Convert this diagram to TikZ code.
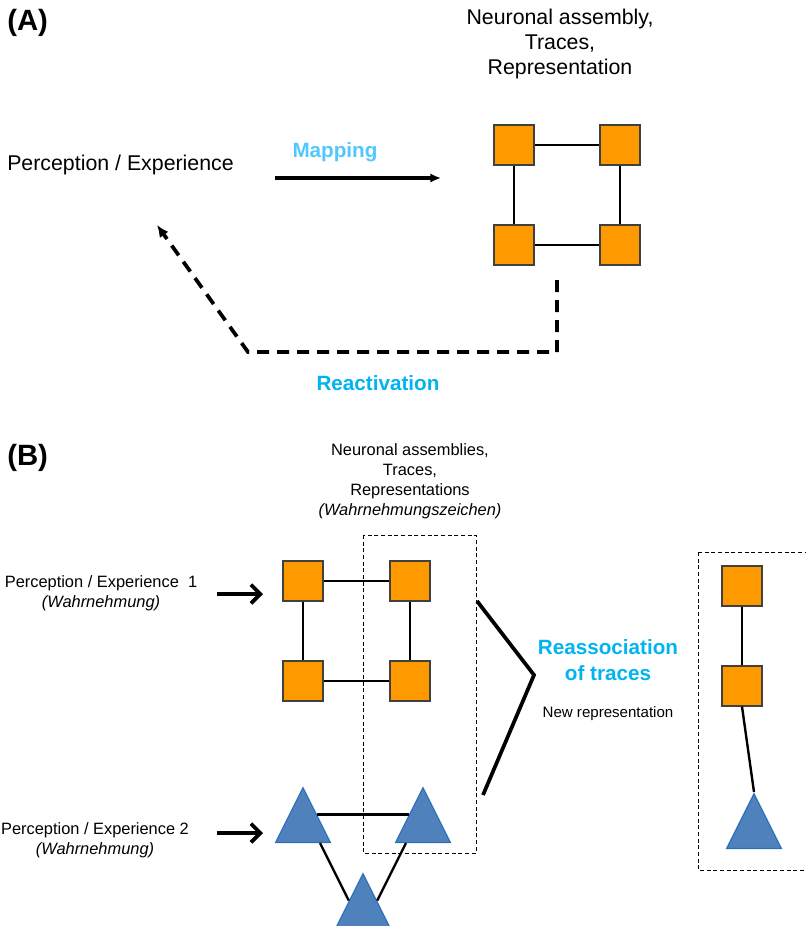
\documentclass[tikz,border=0pt]{standalone}
\usepackage{fontspec}
\setmainfont{Liberation Sans}
\usetikzlibrary{shapes.geometric, positioning, arrows.meta, calc}
\definecolor{sqorange}{RGB}{255,153,0}
\definecolor{sqedge}{RGB}{64,64,64}
\definecolor{trifill}{RGB}{79,129,189}
\definecolor{triedge}{RGB}{46,112,184}
\definecolor{mapblue}{RGB}{80,200,255}
\definecolor{reblue}{RGB}{0,180,240}
\tikzset{sq/.style={draw=sqedge, fill=sqorange, line width=0.9pt, minimum size=30pt, inner sep=0pt},
         tri/.style={isosceles triangle, shape border rotate=90, isosceles triangle stretches,
                     draw=triedge, fill=trifill, line width=1pt, minimum width=41pt, minimum height=41pt,
                     inner sep=0pt, anchor=apex},
         link/.style={line width=1.8pt},
         panel/.style={font=\fontsize{22}{26}\selectfont\bfseries, inner sep=0pt, anchor=west},
         bigtxt/.style={font=\fontsize{16}{19}\selectfont, align=center, inner sep=0pt},
         smalltxt/.style={font=\fontsize{12.3}{15}\selectfont, align=center, inner sep=0pt},
         bluetxt/.style={font=\fontsize{15.5}{19.5}\selectfont\bfseries, align=center, inner sep=0pt},
         box/.style={dash pattern=on 3pt off 2pt, line width=0.7pt},
        }

\begin{document}
\begin{tikzpicture}[x=0.75pt, y=-0.75pt]
        \useasboundingbox (0,0) rectangle (806,926);

        % (A)
        \node[panel](pa)at(7,23){(A)};
        \node[bigtxt, anchor=west](perc)at(7,165){Perception / Experience};
        \node[bigtxt](asm)at(560,44){Neuronal assembly,\\Traces,\\Representation};

        \node[sq](a1)at(514,145){};
        \node[sq](a2)at(620,145){};
        \node[sq](a3)at(514,245){};
        \node[sq](a4)at(620,245){};
        \draw[link](a1)--(a2);
        \draw[link](a3)--(a4);
        \draw[link](a1)--(a3);
        \draw[link](a2)--(a4);

        \node[bluetxt, text=mapblue](map)at(335,152){Mapping};
        \coordinate(m0)at(275,178);
        \coordinate(m1)at(441,178);
        \draw[line width=2.6pt, -{Latex[length=8pt,width=7pt]}](m0)--(m1);

        \coordinate(r0)at(557,280);
        \coordinate(r1)at(557,352);
        \coordinate(r2)at(248,352);
        \coordinate(r3)at(157,225);
        \draw[line width=2.8pt, dash pattern=on 9pt off 6pt, -{Latex[length=9pt,width=8pt]}](r0)--(r1)--(r2)--(r3);
        \node[bluetxt, text=reblue](react)at(378,383){Reactivation};

        % (B)
        \node[panel](pb)at(7,458){(B)};
        \node[smalltxt](asms)at(410,481){Neuronal assemblies,\\Traces,\\Representations\\\textit{(Wahrnehmungszeichen)}};

        \node[smalltxt](p1)at(101,593){Perception / Experience\ \ 1\\\textit{(Wahrnehmung)}};
        \node[smalltxt](p2)at(95,840){Perception / Experience 2\\\textit{(Wahrnehmung)}};

        \node[sq](b1)at(303,581){};
        \node[sq](b2)at(410,581){};
        \node[sq](b3)at(303,681){};
        \node[sq](b4)at(410,681){};
        \draw[link](b1)--(b2);
        \draw[link](b3)--(b4);
        \draw[link](b1)--(b3);
        \draw[link](b2)--(b4);

        \node[tri](t1)at(303,786){};
        \node[tri](t2)at(423,786){};
        \node[tri](t3)at(363,872){};
        \draw[link](t1.right side)--(t2.left side);
        \draw[link]($(t1.lower side)!0.6!(t1.right corner)$)--(t3.left side);
        \draw[link]($(t2.lower side)!0.6!(t2.left corner)$)--(t3.right side);

        \coordinate(e1)at(217,594);
        \coordinate(e2)at(217,833);
        \draw[line width=2.8pt, -{Straight Barb[length=7pt,width=14pt]}](e1)--++(46,0);
        \draw[line width=2.8pt, -{Straight Barb[length=7pt,width=14pt]}](e2)--++(46,0);

        \draw[box](363,535) rectangle (476,853);

        \coordinate(k1)at(477,601);
        \coordinate(k2)at(534,675);
        \coordinate(k3)at(483,795);
        \draw[line width=2.8pt](k1)--(k2)--(k3);

        \node[bluetxt, text=reblue](reass)at(608,660){Reassociation\\of traces};
        \node[smalltxt, font=\fontsize{11.3}{14}\selectfont](newrep)at(608,714){New representation};

        \draw[box](698,552) rectangle (812,870);
        \node[sq](c1)at(742,586){};
        \node[sq](c2)at(742,686){};
        \node[tri](t4)at(754,792){};
        \draw[link](c1)--(c2);
        \draw[link](c2.south)--(t4.apex);
    \end{tikzpicture}
\end{document}
